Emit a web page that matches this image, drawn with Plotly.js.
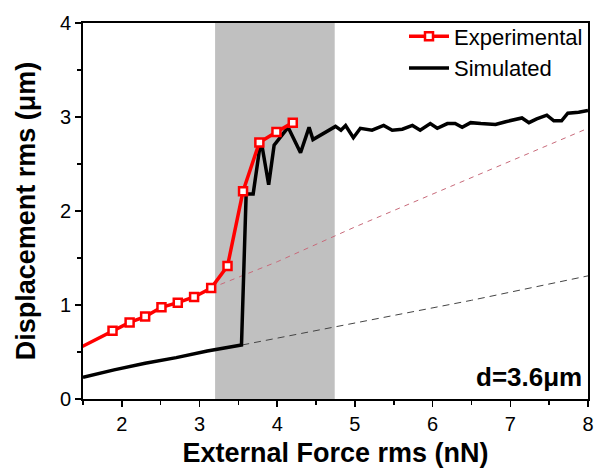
<!DOCTYPE html>
<html>
<head>
<meta charset="utf-8">
<script src="https://cdn.plot.ly/plotly-3.0.1.min.js"></script>
<style>html,body{margin:0;padding:0;background:#fff;}#chart{width:598px;height:468px;}</style>
</head>
<body>
<div id="chart"></div>
<script>
// Experimental data
const expForce = [1.4, 1.88, 2.1, 2.3, 2.51, 2.72, 2.93, 3.15, 3.36, 3.56, 3.77, 3.99, 4.2];
const expDisp  = [0.52, 0.725, 0.815, 0.877, 0.975, 1.025, 1.085, 1.18, 1.415, 2.21, 2.73, 2.84, 2.94];

// Simulated data
const simForce = [1.5, 1.9, 2.3, 2.7, 3.1, 3.3, 3.54, 3.6, 3.69, 3.79, 3.89, 3.96, 4.14, 4.30, 4.41, 4.46, 4.62, 4.75, 4.82, 4.88, 4.98, 5.07, 5.22, 5.37, 5.48, 5.61, 5.74, 5.84, 5.97, 6.06, 6.19, 6.29, 6.38, 6.49, 6.62, 6.81, 6.94, 7.15, 7.24, 7.34, 7.47, 7.56, 7.66, 7.74, 7.88, 8.0];
const simDisp  = [0.23, 0.31, 0.38, 0.44, 0.51, 0.54, 0.575, 2.18, 2.18, 2.76, 2.28, 2.70, 2.89, 2.62, 2.89, 2.76, 2.84, 2.90, 2.86, 2.91, 2.78, 2.88, 2.86, 2.91, 2.86, 2.87, 2.91, 2.86, 2.93, 2.88, 2.93, 2.93, 2.89, 2.94, 2.93, 2.92, 2.95, 2.99, 2.94, 2.98, 3.02, 2.96, 2.96, 3.04, 3.05, 3.07];

// Extrapolation (dashed) lines
const expFitForce = [3.15, 4, 5, 6, 7, 8];
const expFitDisp  = [1.18, 1.46, 1.83, 2.18, 2.53, 2.88];
const simFitForce = [3.55, 5, 6.5, 8];
const simFitDisp  = [0.575, 0.81, 1.05, 1.31];

// Shaded band
const bandX = [3.2, 4.74];

const traces = [
  {x: expFitForce, y: expFitDisp, mode: 'lines', line: {color: '#c86a7a', width: 1, dash: '5px,5px'}, showlegend: false, hoverinfo: 'skip'},
  {x: simFitForce, y: simFitDisp, mode: 'lines', line: {color: '#444444', width: 1, dash: '7px,5px'}, showlegend: false, hoverinfo: 'skip'},
  {x: simForce, y: simDisp, mode: 'lines', name: 'Simulated', line: {color: '#000000', width: 3.5}},
  {x: expForce, y: expDisp, mode: 'lines+markers', name: 'Experimental',
   line: {color: '#ff0000', width: 3.5},
   marker: {symbol: 'square', size: 8, color: '#ffffff', line: {color: '#ff0000', width: 2.5}}}
];

const fontFam = 'Arial, "Liberation Sans", sans-serif';

const layout = {
  width: 598, height: 468,
  margin: {l: 83, r: 10, t: 23, b: 69},
  paper_bgcolor: '#ffffff', plot_bgcolor: '#ffffff',
  font: {family: fontFam, color: '#000000', size: 20},
  showlegend: true,
  legend: {x: 1, xanchor: 'right', y: 1.02, yanchor: 'top', bgcolor: 'rgba(0,0,0,0)',
           font: {size: 22, family: fontFam}, traceorder: 'reversed', itemwidth: 40,
           tracegroupgap: 0},
  xaxis: {
    range: [1.5, 8], dtick: 1, tick0: 0, ticks: 'outside', ticklen: 6, tickwidth: 1.5, tickcolor: '#000',
    minor: {dtick: 0.5, ticks: 'outside', ticklen: 4, tickwidth: 1.5, tickcolor: '#000'},
    showline: true, linewidth: 2, linecolor: '#000', mirror: true, showgrid: false, zeroline: false,
    tickfont: {size: 20, family: fontFam},
    title: {text: '<b>External Force rms (nN)</b>', font: {size: 27, family: fontFam}, standoff: 10}
  },
  yaxis: {
    range: [0, 4], dtick: 1, tick0: 0, ticks: 'outside', ticklen: 6, tickwidth: 1.5, tickcolor: '#000',
    minor: {dtick: 0.5, ticks: 'outside', ticklen: 4, tickwidth: 1.5, tickcolor: '#000'},
    showline: true, linewidth: 2, linecolor: '#000', mirror: true, showgrid: false, zeroline: false,
    tickfont: {size: 20, family: fontFam},
    title: {text: '<b>Displacement rms (μm)</b>', font: {size: 27, family: fontFam}, standoff: 16}
  },
  shapes: [{type: 'rect', xref: 'x', yref: 'paper', x0: bandX[0], x1: bandX[1], y0: 0, y1: 1,
            fillcolor: '#c0c0c0', line: {width: 0}, layer: 'below'}],
  annotations: [{text: '<b>d=3.6μm</b>', xref: 'paper', yref: 'y', x: 1, y: 0.23, xanchor: 'right', yanchor: 'middle',
                 xshift: -4, showarrow: false, font: {size: 26, family: fontFam, color: '#000'}}]
};

Plotly.newPlot('chart', traces, layout, {displayModeBar: false, staticPlot: true});
</script>
</body>
</html>
